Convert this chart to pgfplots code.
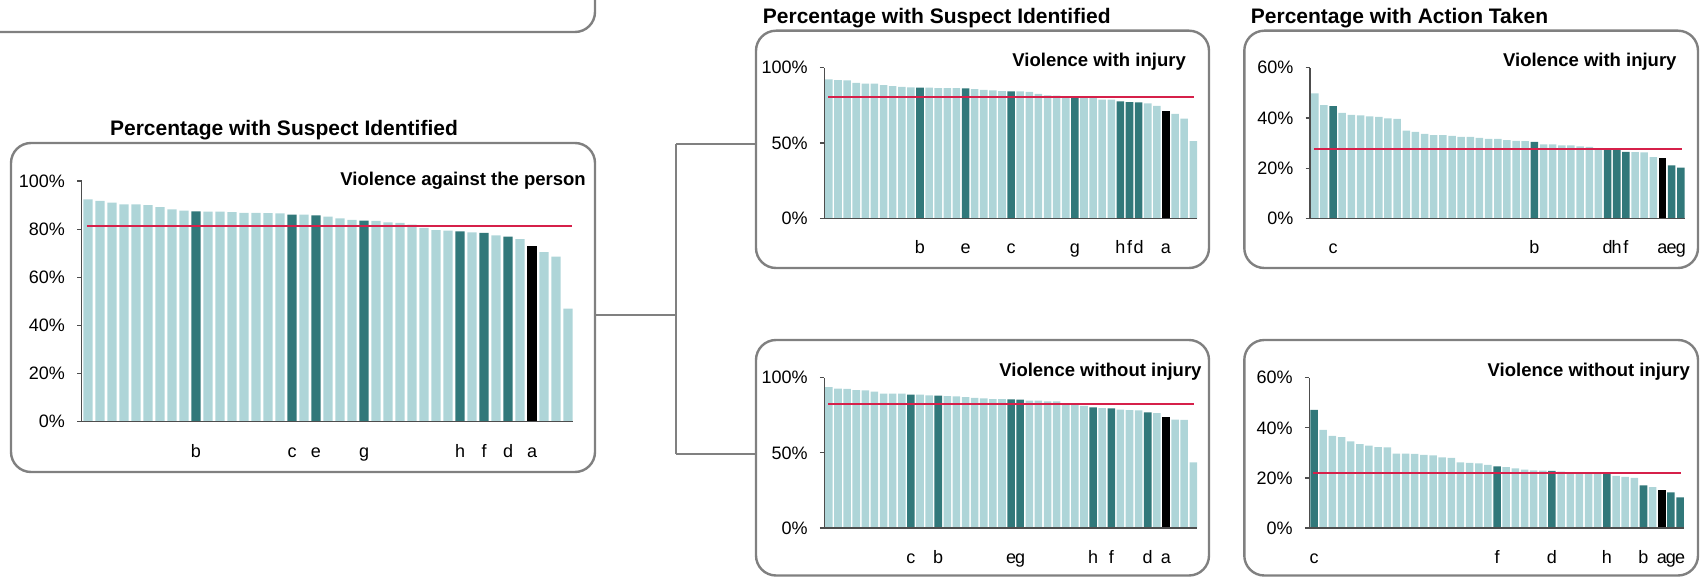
\documentclass[border=0pt]{standalone}
\usepackage{pgfplots}
\pgfplotsset{compat=1.18}
\usepackage{fontspec}
\setmainfont{Liberation Sans}
\definecolor{light}{HTML}{AED5D8}
\definecolor{dark}{HTML}{31787A}
\definecolor{avg}{HTML}{D6204A}
\definecolor{frame}{HTML}{808080}
\definecolor{axc}{HTML}{4D4D4D}
\pgfplotsset{
  panel/.style={
    scale only axis,
    anchor=south west,
    axis on top,
    axis lines*=left,
    axis line style={-, draw=axc, line width=1.2pt},
    ymin=0,
    tick align=outside,
    major tick length=4.5pt,
    ytick style={draw=axc, line width=1.2pt},
    xtick style={draw=none},
    ybar, bar shift=0pt,
    clip=false,
    tick label style={font=\fontsize{18}{20}\selectfont},
    yticklabel style={anchor=east, inner sep=0pt, xshift=-12pt},
    xticklabel style={anchor=base, inner sep=0pt, yshift=-31pt},
  },
  lightbar/.style={fill=light, draw=none},
  darkbar/.style={fill=dark, draw=none},
  blackbar/.style={fill=black, draw=none},
  avgline/.style={sharp plot, draw=avg, line width=2pt, mark=none},
}
\begin{document}
\begin{tikzpicture}[x=1pt,y=1pt]
\useasboundingbox (0,0) rectangle (1703,-577);
% frames
\begin{scope}[draw=frame, line width=2.4pt, rounded corners=20pt]
\draw (-60,60) rectangle (595,-32);
\draw (11,-143) rectangle (595,-472);
\draw (756,-30.7) rectangle (1209,-268);
\draw (1244.3,-30.7) rectangle (1698,-268);
\draw (756,-340) rectangle (1209,-575.5);
\draw (1244.3,-340) rectangle (1698,-575.5);
\end{scope}
\begin{scope}[draw=frame, line width=2.5pt]
\draw (595,-315) -- (676,-315);
\draw (676,-144) -- (676,-454);
\draw (676,-144) -- (756,-144);
\draw (676,-454) -- (756,-454);
\end{scope}
% titles
\node[anchor=base, inner sep=0pt, font=\fontsize{21}{24}\selectfont\bfseries] at (284,-136) {Percentage with Suspect Identified};
\node[anchor=base west, inner sep=0pt, font=\fontsize{21}{24}\selectfont\bfseries] at (762.7,-24) {Percentage with Suspect Identified};
\node[anchor=base west, inner sep=0pt, font=\fontsize{21}{24}\selectfont\bfseries] at (1250.7,-24) {Percentage with Action Taken};
% subtitles
\node[anchor=base east, inner sep=0pt, font=\fontsize{18.5}{21}\selectfont\bfseries] at (586,-186) {Violence against the person};
\node[anchor=base east, inner sep=0pt, font=\fontsize{18.5}{21}\selectfont\bfseries] at (1186,-66.7) {Violence with injury};
\node[anchor=base east, inner sep=0pt, font=\fontsize{18.5}{21}\selectfont\bfseries] at (1676.7,-66.7) {Violence with injury};
\node[anchor=base east, inner sep=0pt, font=\fontsize{18.5}{21}\selectfont\bfseries] at (1201.7,-376.7) {Violence without injury};
\node[anchor=base east, inner sep=0pt, font=\fontsize{18.5}{21}\selectfont\bfseries] at (1690,-376.7) {Violence without injury};

% ---- main panel
\begin{axis}[panel, at={(81.7pt,-421.7pt)}, width=491.7pt, height=240.7pt,
  xmin=-0.525, xmax=40.45, ymax=100,
  ytick={0,20,40,60,80,100}, yticklabels={0\%,20\%,40\%,60\%,80\%,100\%},
  xtick={9,17,19,23,31,33,35,37}, xticklabels={b,c,e,g,h,f,d,a},
  bar width=0.78]
\addplot[lightbar] coordinates {(0,92.4)(1,91.7)(2,91.0)(3,90.3)(4,90.3)(5,90.0)(6,89.1)(7,88.2)(8,87.7)(10,87.3)(11,87.3)(12,87.1)(13,86.8)(14,86.8)(15,86.7)(16,86.6)(18,86.0)(20,85.2)(21,84.5)(22,83.8)(24,83.4)(25,82.8)(26,82.6)(27,81.9)(28,80.5)(29,79.6)(30,79.4)(32,78.7)(34,77.4)(36,75.8)(38,70.5)(39,68.6)(40,47.0)};
\addplot[darkbar] coordinates {(9,87.4)(17,86.0)(19,85.7)(23,83.5)(31,79.1)(33,78.4)(35,76.9)};
\addplot[blackbar] coordinates {(37,73.0)};
\addplot[avgline] coordinates {(-0.1,81.3)(40.35,81.3)};
\end{axis}

% ---- panel A
\begin{axis}[panel, at={(824.3pt,-218.3pt)}, width=372.8pt, height=150.6pt,
  xmin=-0.505, xmax=40.42, ymax=100,
  ytick={0,50,100}, yticklabels={0\%,50\%,100\%},
  xtick={10,15,20,27,32,33,34,37}, xticklabels={b,e,c,g,h,f,d,a},
  bar width=0.83]
\addplot[lightbar] coordinates {(0,92.3)(1,91.8)(2,91.6)(3,90.0)(4,89.4)(5,89.4)(6,88.5)(7,87.8)(8,87.2)(9,87.0)(11,86.7)(12,86.5)(13,86.5)(14,86.5)(16,85.7)(17,85.2)(18,85.0)(19,84.5)(21,84.3)(22,83.9)(23,82.7)(24,81.7)(25,81.4)(26,81.0)(28,80.3)(29,80.3)(30,78.8)(31,78.8)(35,76.3)(36,74.6)(38,69.3)(39,66.2)(40,51.3)};
\addplot[darkbar] coordinates {(10,86.7)(15,86.3)(20,84.3)(27,81.0)(32,77.7)(33,77.2)(34,77.0)};
\addplot[blackbar] coordinates {(37,71.3)};
\addplot[avgline] coordinates {(-0.07,80.3)(40.1,80.3)};
\end{axis}

% ---- panel B
\begin{axis}[panel, at={(1310pt,-218.3pt)}, width=375pt, height=150.6pt,
  xmin=-0.52, xmax=40.46, ymax=60,
  ytick={0,20,40,60}, yticklabels={0\%,20\%,40\%,60\%},
  xtick={2,24,32,33,34,38,39,40}, xticklabels={c,b,d,h,f,a,e,g},
  bar width=0.82]
\addplot[lightbar] coordinates {(0,49.8)(1,45.1)(3,42.0)(4,41.2)(5,41.0)(6,40.6)(7,40.4)(8,39.8)(9,39.6)(10,34.9)(11,34.4)(12,33.6)(13,33.1)(14,33.1)(15,32.8)(16,32.4)(17,32.4)(18,32.0)(19,31.6)(20,31.6)(21,31.1)(22,30.8)(23,30.7)(25,29.5)(26,29.5)(27,29.1)(28,29.1)(29,28.7)(30,28.5)(31,28.0)(35,26.4)(36,26.3)(37,24.4)};
\addplot[darkbar] coordinates {(2,44.7)(24,30.4)(32,27.8)(33,27.3)(34,26.5)(39,21.1)(40,20.2)};
\addplot[blackbar] coordinates {(38,23.9)};
\addplot[avgline] coordinates {(-0.09,27.7)(40.1,27.7)};
\end{axis}

% ---- panel C
\begin{axis}[panel, at={(824.3pt,-528pt)}, width=372.8pt, height=150.3pt,
  xmin=-0.505, xmax=40.42, ymax=100,
  ytick={0,50,100}, yticklabels={0\%,50\%,100\%},
  xtick={9,12,20,21,29,31,35,37}, xticklabels={c,b,e,g,h,f,d,a},
  bar width=0.83]
\addplot[lightbar] coordinates {(0,93.8)(1,92.7)(2,92.5)(3,91.8)(4,91.6)(5,90.7)(6,89.4)(7,89.4)(8,89.4)(10,88.7)(11,88.3)(13,87.8)(14,87.6)(15,87.1)(16,86.6)(17,86.3)(18,85.8)(19,85.8)(22,84.7)(23,84.7)(24,84.3)(25,84.3)(26,82.5)(27,82.3)(28,81.2)(30,79.8)(32,78.7)(33,78.5)(34,78.3)(36,76.5)(38,72.1)(39,72.0)(40,43.7)};
\addplot[darkbar] coordinates {(9,88.7)(12,88.0)(20,85.6)(21,85.4)(29,80.3)(31,79.6)(35,77.0)};
\addplot[blackbar] coordinates {(37,73.9)};
\addplot[avgline] coordinates {(-0.07,82.3)(40.1,82.3)};
\end{axis}

% ---- panel D
\begin{axis}[panel, at={(1309.3pt,-528pt)}, width=375pt, height=150.3pt,
  xmin=-0.52, xmax=40.46, ymax=60,
  ytick={0,20,40,60}, yticklabels={0\%,20\%,40\%,60\%},
  xtick={0,20,26,32,36,38,39,40}, xticklabels={c,f,d,h,b,a,g,e},
  bar width=0.82]
\addplot[lightbar] coordinates {(1,39.2)(2,36.8)(3,36.3)(4,34.6)(5,33.5)(6,32.9)(7,32.3)(8,32.2)(9,29.7)(10,29.7)(11,29.6)(12,29.2)(13,29.0)(14,28.2)(15,28.0)(16,26.2)(17,26.0)(18,25.8)(19,25.2)(21,24.3)(22,23.8)(23,23.3)(24,23.0)(25,22.9)(27,22.5)(28,22.2)(29,22.0)(30,21.8)(31,21.6)(33,20.8)(34,20.4)(35,20.0)(37,16.3)};
\addplot[darkbar] coordinates {(0,47.2)(20,24.6)(26,22.8)(32,21.5)(36,17.0)(39,14.2)(40,12.2)};
\addplot[blackbar] coordinates {(38,15.2)};
\addplot[avgline] coordinates {(-0.09,21.8)(40.1,21.8)};
\end{axis}
\end{tikzpicture}
\end{document}
